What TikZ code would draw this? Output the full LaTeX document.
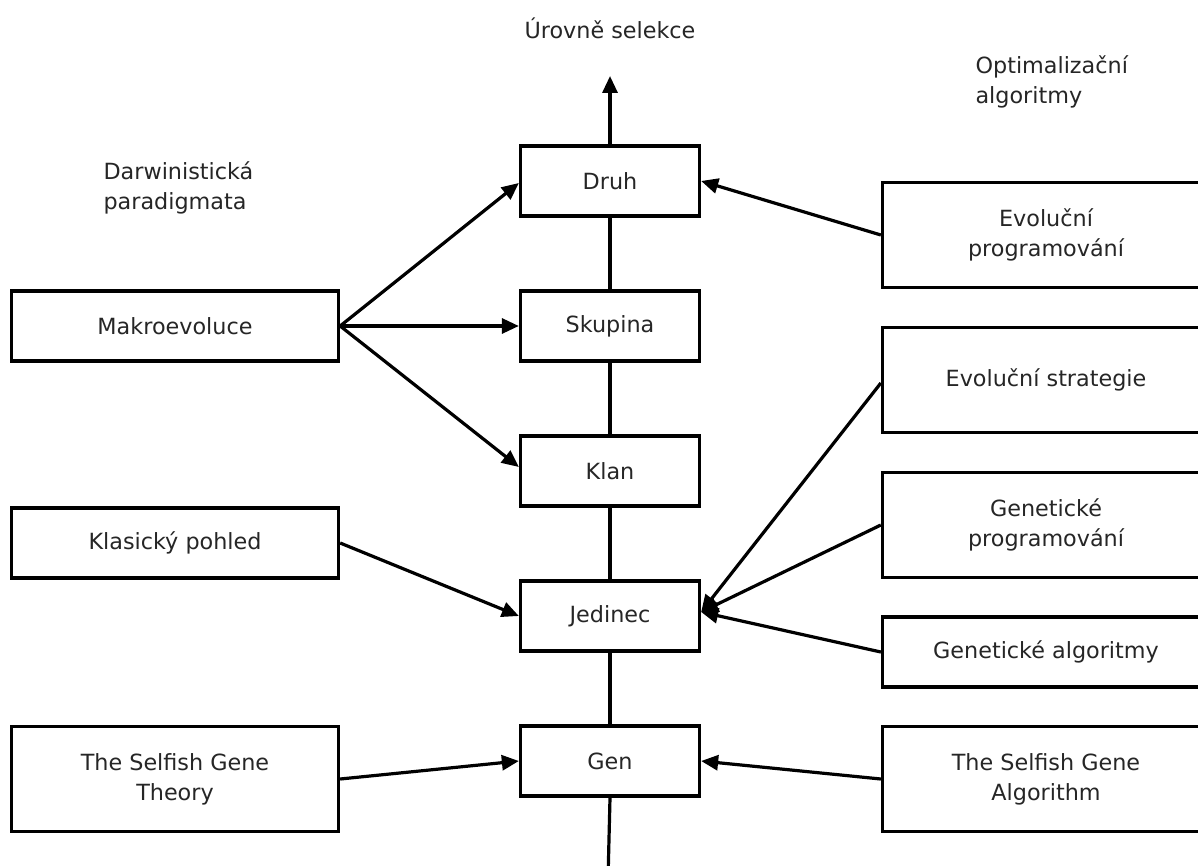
\documentclass[tikz,border=0pt]{standalone}
\usepackage{fontspec}
\setmainfont{DejaVu Sans}
\usetikzlibrary{arrows.meta}
\begin{document}
\begin{tikzpicture}[x=1pt,y=-1pt,
  txt/.style={text=black!85,font=\fontsize{22.3}{30}\selectfont},
  box/.style={txt,draw=black,line width=3.3pt,rectangle,align=center,inner sep=0pt},
  midbox/.style={box,minimum width=179pt,minimum height=70pt},
  sidebox/.style={box,minimum width=327pt,minimum height=70pt},
  tallbox/.style={box,minimum width=327pt,minimum height=105pt},
  conn/.style={line width=3.2pt},
  arr/.style={conn,-{Triangle[length=17pt,width=15pt]}},
  lbl/.style={txt,align=left,anchor=west}]
\useasboundingbox (0,0) rectangle (1198,866);
\clip (0,0) rectangle (1198,866);
\fill[white] (0,0) rectangle (1198,866);

% title and group labels
\node[txt] (title) at (610,28) {Úrovně selekce};
\node[lbl] (darw) at (100,188) {Darwinistická\\paradigmata};
\node[lbl] (optim) at (972,82) {Optimalizační\\algoritmy};

% central column
\node[midbox] (druh) at (610,181) {Druh};
\node[midbox] (skup) at (610,326) {Skupina};
\node[midbox] (klan) at (610,471) {Klan};
\node[midbox] (jed)  at (610,616) {Jedinec};
\node[midbox] (gen)  at (610,761) {Gen};

% left column
\node[sidebox] (mak)  at (175,326) {Makroevoluce};
\node[sidebox] (klas) at (175,543) {Klasický pohled};
\node[tallbox] (sgt)  at (175,779) {The Selfish Gene\\Theory};

% right column
\node[tallbox] (ep)  at (1046,235) {Evoluční\\programování};
\node[tallbox] (es)  at (1046,380) {Evoluční strategie};
\node[tallbox] (gp)  at (1046,525) {Genetické\\programování};
\node[sidebox] (ga)  at (1046,652) {Genetické algoritmy};
\node[tallbox] (sga) at (1046,779) {The Selfish Gene\\Algorithm};

\coordinate (top) at (610,76);
\coordinate (bottom) at (608,880);

% vertical axis
\draw[arr] (druh.north) -- (top);
\draw[conn] (skup.north) -- (druh.south);
\draw[conn] (klan.north) -- (skup.south);
\draw[conn] (jed.north) -- (klan.south);
\draw[conn] (gen.north) -- (jed.south);
\draw[conn] (gen.south) -- (bottom);

% left connectors
\draw[arr] (mak.east) -- ([yshift=-2pt]druh.west);
\draw[arr] (mak.east) -- (skup.west);
\draw[arr] (mak.east) -- ([yshift=4pt]klan.west);
\draw[arr] (klas.east) -- (jed.west);
\draw[arr] (sgt.east) -- (gen.west);

% right connectors
\draw[arr] (ep.west) -- (druh.east);
\draw[arr] ([yshift=-3pt]es.west) -- ([yshift=4pt]jed.east);
\draw[arr] (gp.west) -- ([yshift=4pt]jed.east);
\draw[arr] (ga.west) -- ([yshift=4pt]jed.east);
\draw[arr] (sga.west) -- (gen.east);
\end{tikzpicture}
\end{document}
